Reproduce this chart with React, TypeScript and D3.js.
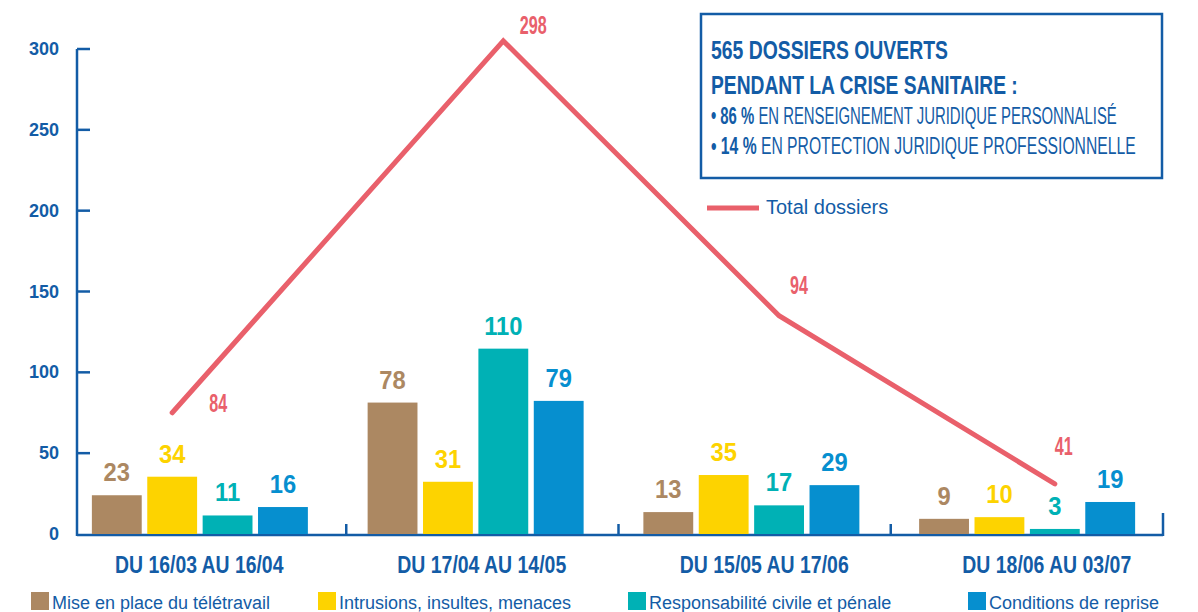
import React, { useLayoutEffect, useRef, useState } from "react";
import * as d3 from "d3";

// ---------- DATA ----------
const periods = ["DU 16/03 AU 16/04", "DU 17/04 AU 14/05", "DU 15/05 AU 17/06", "DU 18/06 AU 03/07"];
const seriesNames = [
  "Mise en place du télétravail",
  "Intrusions, insultes, menaces",
  "Responsabilité civile et pénale",
  "Conditions de reprise",
];
const teletravail = [23, 78, 13, 9];
const intrusions = [34, 31, 35, 10];
const responsabilite = [11, 110, 17, 3];
const reprise = [16, 79, 29, 19];
// printed totals, the level at which the line is drawn against the axis,
// and the bar (series index) above which each point of the line sits
const totalLabels = [84, 298, 94, 41];
const totalPlotted = [75, 305, 135, 31];
const totalAboveSeries = [1, 2, 2, 2];
const yTicks = [0, 50, 100, 150, 200, 250, 300];
const boxTitle = ["565 DOSSIERS OUVERTS", "PENDANT LA CRISE SANITAIRE :"];
const boxBullets = [
  { pct: "86 %", text: "EN RENSEIGNEMENT JURIDIQUE PERSONNALISÉ" },
  { pct: "14 %", text: "EN PROTECTION JURIDIQUE PROFESSIONNELLE" },
];
const lineLegend = "Total dossiers";

const seriesValues = [teletravail, intrusions, responsabilite, reprise];
const colors = ["#ac8862", "#fdd300", "#00b1b5", "#068fcf"];
const navy = "#135ca6";
const red = "#e9606b";
const sans = "'Liberation Sans', Arial, sans-serif";

// text squeezed horizontally to a given width (condensed look)
function FitText(props: {
  x: number;
  y: number;
  width?: number;
  sx?: number;
  anchor?: "start" | "middle" | "end";
  fontSize: number;
  fontWeight?: string;
  fill: string;
  children: React.ReactNode;
}) {
  const ref = useRef<SVGTextElement>(null);
  const [s, setS] = useState(props.sx ?? 1);
  useLayoutEffect(() => {
    if (props.width && ref.current) {
      const w = ref.current.getBBox().width;
      if (w > 0) setS(props.width / w);
    }
  }, [props.width]);
  return (
    <g transform={`translate(${props.x},${props.y}) scale(${s},1)`}>
      <text
        ref={ref}
        x={0}
        y={0}
        textAnchor={props.anchor ?? "start"}
        fontFamily={sans}
        fontSize={props.fontSize}
        fontWeight={props.fontWeight ?? "normal"}
        fill={props.fill}
      >
        {props.children}
      </text>
    </g>
  );
}

export default function App() {
  const W = 1198;
  const H = 612;
  const axisX = 77;
  const baseY = 535;

  const yAxis = d3.scaleLinear().domain([0, 300]).range([534, 49]);
  const yBar = d3.scaleLinear().domain([0, 300]).range([534, 28.5]);

  const xGroups = d3.scaleBand().domain(periods).range([62, 1165]);
  const groupW = 216;
  const inner = d3.scaleBand<number>().domain([0, 1, 2, 3]).range([0, groupW]).paddingInner(0.1);
  const groupStart = (p: string) => xGroups(p)! + (xGroups.bandwidth() - groupW) / 2;
  const xTicks = d3.scaleBand().domain(periods).range([74, 1163]);
  const xLabels = d3.scaleBand().domain(periods).range([58, 1188]);

  const lineX = (i: number) => groupStart(periods[i]) + inner(totalAboveSeries[i])! + inner.bandwidth() / 2;
  const linePath = d3
    .line<number>()
    .x((_, i) => lineX(i))
    .y((d) => yAxis(d))(totalPlotted);

  // annotation placement of the total labels, relative to their line point
  const labelOffset = [
    [46, -10],
    [30, -16],
    [20, -31],
    [9, -38],
  ];
  const legendX = [31, 318, 628, 968];

  return (
    <svg width={W} height={H} style={{ position: "absolute", left: 0, top: 0, background: "#fff" }}>
      {/* Y axis */}
      <line x1={axisX} x2={axisX} y1={yAxis(300)} y2={baseY + 1} stroke={navy} strokeWidth={2.5} />
      {yTicks.map((t) => (
        <g key={t}>
          {t > 0 && (
            <line x1={axisX} x2={axisX + 13} y1={yAxis(t)} y2={yAxis(t)} stroke={navy} strokeWidth={2.5} />
          )}
          <text
            x={59}
            y={yAxis(t) + 6}
            textAnchor="end"
            fontFamily={sans}
            fontWeight="bold"
            fontSize={18}
            fill={navy}
          >
            {t}
          </text>
        </g>
      ))}
      {/* X axis */}
      <line
        x1={axisX}
        x2={xTicks(periods[3])! + xTicks.bandwidth()}
        y1={baseY}
        y2={baseY}
        stroke={navy}
        strokeWidth={2.5}
      />
      {periods.map((p, i) => {
        const x = xTicks(p)! + xTicks.bandwidth();
        return (
          <line
            key={p}
            x1={x}
            x2={x}
            y1={baseY + 1}
            y2={i === 3 ? baseY - 22 : baseY - 11}
            stroke={navy}
            strokeWidth={2.5}
          />
        );
      })}

      {/* Bars */}
      {periods.map((p, gi) => {
        const g0 = groupStart(p);
        return (
          <g key={p}>
            {seriesValues.map((vals, si) => {
              const v = vals[gi];
              const x = g0 + inner(si)!;
              const y = yBar(v);
              return (
                <g key={si}>
                  <rect x={x} y={y} width={inner.bandwidth()} height={yBar(0) - y} fill={colors[si]} />
                  <FitText
                    x={x + inner.bandwidth() / 2}
                    y={y - 14}
                    sx={0.95}
                    anchor="middle"
                    fontWeight="bold"
                    fontSize={25}
                    fill={colors[si]}
                  >
                    {v}
                  </FitText>
                </g>
              );
            })}
            <FitText
              x={xLabels(p)! + xLabels.bandwidth() / 2}
              y={573}
              width={169}
              anchor="middle"
              fontWeight="bold"
              fontSize={24}
              fill={navy}
            >
              {p}
            </FitText>
          </g>
        );
      })}

      {/* Total line */}
      <path d={linePath ?? ""} fill="none" stroke={red} strokeWidth={5} strokeLinecap="round" strokeLinejoin="miter" />
      {totalLabels.map((v, i) => (
        <FitText
          key={i}
          x={lineX(i) + labelOffset[i][0]}
          y={yAxis(totalPlotted[i]) + labelOffset[i][1] + 9.5}
          sx={0.62}
          anchor="middle"
          fontWeight="bold"
          fontSize={26}
          fill={red}
        >
          {v}
        </FitText>
      ))}

      {/* Info box */}
      <rect x={701} y={14} width={461} height={164} fill="none" stroke={navy} strokeWidth={2.5} />
      {boxTitle.map((t, i) => (
        <FitText key={t} x={711} y={59 + i * 35} width={i === 0 ? 237 : 307} fontWeight="bold" fontSize={26} fill={navy}>
          {t}
        </FitText>
      ))}
      {boxBullets.map((b, i) => (
        <FitText key={b.pct} x={711} y={124 + i * 30} width={i === 0 ? 406 : 425} fontSize={23} fill={navy}>
          <tspan fontWeight="bold">{"• " + b.pct}</tspan>
          <tspan>{" " + b.text}</tspan>
        </FitText>
      ))}
      <line x1={707} x2={759} y1={208} y2={208} stroke={red} strokeWidth={5} />
      <text x={766} y={214} fontFamily={sans} fontSize={20} fill={navy}>
        {lineLegend}
      </text>

      {/* Bottom legend */}
      {seriesNames.map((n, i) => (
        <g key={n}>
          <rect x={legendX[i]} y={592} width={18} height={18} fill={colors[i]} />
          <text x={legendX[i] + 21} y={609} fontFamily={sans} fontSize={18} fill={navy}>
            {n}
          </text>
        </g>
      ))}
    </svg>
  );
}
